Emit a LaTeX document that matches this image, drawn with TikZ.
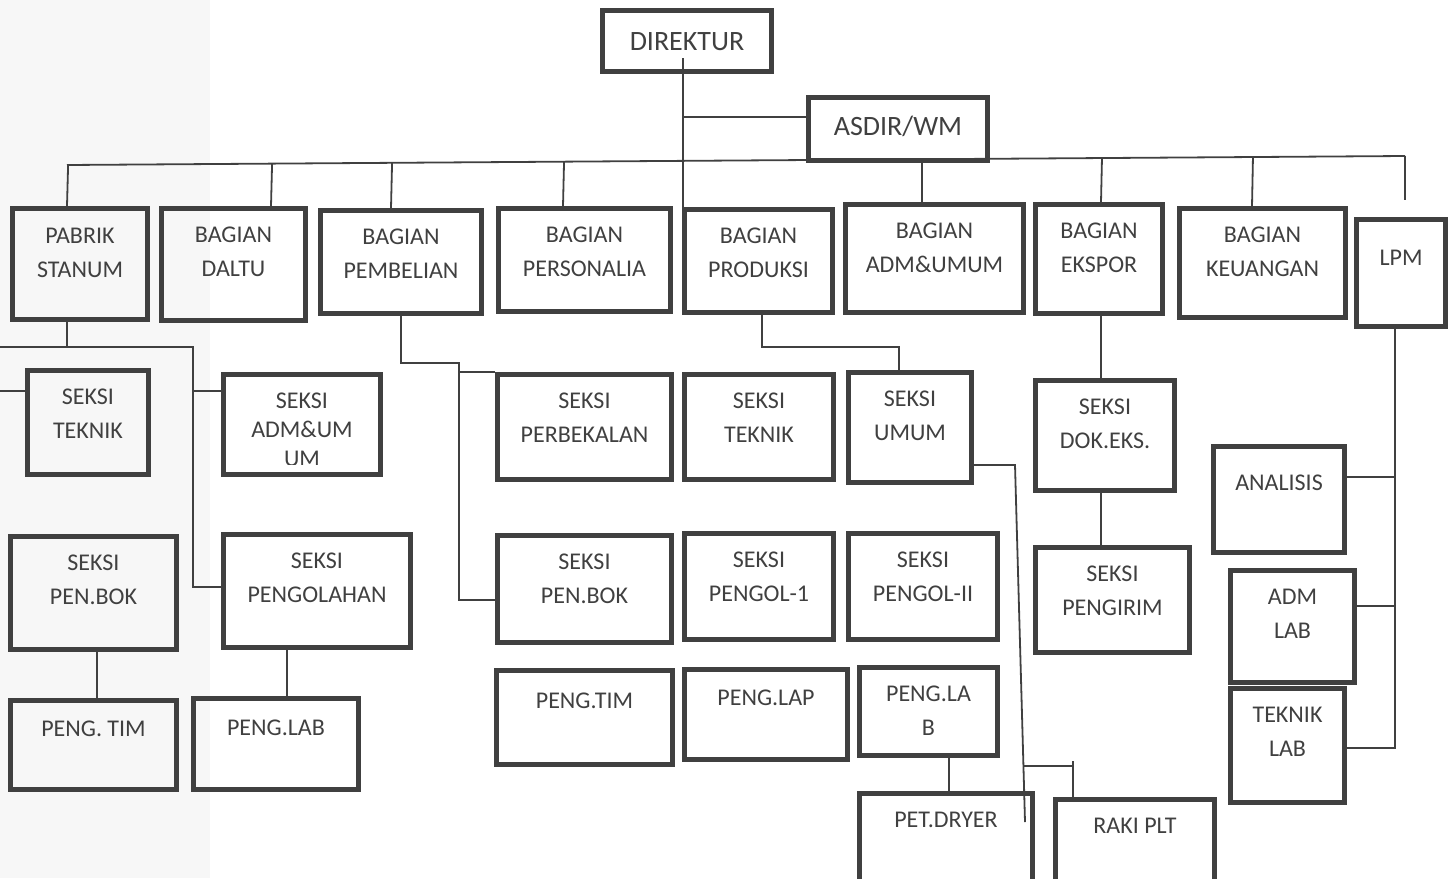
\documentclass[tikz,border=0pt]{standalone}
\usepackage{fontspec}
\setmainfont{Carlito}
\usetikzlibrary{calc}
\definecolor{boxgray}{RGB}{64,64,64}
\definecolor{stripgray}{RGB}{247,247,247}

\begin{document}
\begin{tikzpicture}[x=0.5pt, y=-0.5pt,
  box/.style={draw=boxgray, line width=2.5pt, inner sep=0pt},
  txt/.style={anchor=north, inner sep=0pt, yshift=-10.25pt, align=center, text=boxgray, font=\fontsize{12}{17}\selectfont},
  big/.style={font=\fontsize{14}{17}\selectfont},
  link/.style={draw=boxgray, line width=0.9pt}]
\useasboundingbox (0,0) rectangle (1449,878);
\clip (0,0) rectangle (1449,878);
\fill[stripgray] (0,0) rectangle (210,878);

%top
\node[box, minimum width=84.5pt, minimum height=30.5pt, label={[txt,big,yshift=-2pt]north:DIREKTUR}] (dir) at (687,41) {};
\node[box, minimum width=89.5pt, minimum height=31.5pt, label={[txt,big]north:ASDIR/WM}] (asdir) at (898,129) {};

%bagian row
\node[box, minimum width=67.5pt, minimum height=55.5pt, label={[txt,yshift=-0.5pt]north:PABRIK\\STANUM}] (pab) at (80,264) {};
\node[box, minimum width=72pt, minimum height=56pt, label={[txt]north:BAGIAN\\DALTU}] (dal) at (233.5,264.5) {};
\node[box, minimum width=80.5pt, minimum height=51.5pt, label={[txt]north:BAGIAN\\PEMBELIAN}] (pem) at (401,262) {};
\node[box, minimum width=86pt, minimum height=51.5pt, label={[txt]north:BAGIAN\\PERSONALIA}] (per) at (584.5,260) {};
\node[box, minimum width=74pt, minimum height=51.5pt, label={[txt]north:BAGIAN\\PRODUKSI}] (prod) at (758.5,261) {};
\node[box, minimum width=89pt, minimum height=54pt, label={[txt]north:BAGIAN\\ADM\&UMUM}] (adm) at (934.5,258.5) {};
\node[box, minimum width=63.5pt, minimum height=54.5pt, label={[txt]north:BAGIAN\\EKSPOR}] (eks) at (1099,259) {};
\node[box, minimum width=83pt, minimum height=54.5pt, label={[txt]north:BAGIAN\\KEUANGAN}] (keu) at (1262.5,263) {};
\node[box, minimum width=44.5pt, minimum height=53.5pt, label={[txt,yshift=-6pt]north:LPM}] (lpm) at (1401,273) {};

%left seksi
\node[box, minimum width=60.5pt, minimum height=52pt, label={[txt]north:SEKSI\\TEKNIK}] (tek1) at (88,422.5) {};
\node[box, minimum width=78.5pt, minimum height=50pt] (admum) at (302,424.5) {};
\begin{scope}
\clip (221,372) rectangle (383,464);
\node[txt, font=\fontsize{12}{14.5}\selectfont] (admum-t) at (admum.north) {SEKSI\\ADM\&UM\\UM};
\end{scope}
\node[box, minimum width=83pt, minimum height=56.5pt, label={[txt]north:SEKSI\\PEN.BOK}] (pbok1) at (93.5,593) {};
\node[box, minimum width=93.5pt, minimum height=56.5pt, label={[txt]north:SEKSI\\PENGOLAHAN}] (pengo) at (317,591) {};
\node[box, minimum width=83pt, minimum height=44.5pt, label={[txt,yshift=-1pt]north:PENG. TIM}] (ptim1) at (93.5,745) {};
\node[box, minimum width=82.5pt, minimum height=45.5pt, label={[txt,yshift=-1.5pt]north:PENG.LAB}] (plab1) at (276,744) {};

%middle seksi
\node[box, minimum width=87pt, minimum height=52.5pt, label={[txt]north:SEKSI\\PERBEKALAN}] (perb) at (584.5,427) {};
\node[box, minimum width=74.5pt, minimum height=52.5pt, label={[txt]north:SEKSI\\TEKNIK}] (tek2) at (759,427) {};
\node[box, minimum width=61.5pt, minimum height=55pt, label={[txt]north:SEKSI\\UMUM}] (umum) at (910,427.5) {};
\node[box, minimum width=87pt, minimum height=53.5pt, label={[txt]north:SEKSI\\PEN.BOK}] (pbok2) at (584.5,589) {};
\node[box, minimum width=74.5pt, minimum height=53pt, label={[txt]north:SEKSI\\PENGOL-1}] (pgl1) at (759,586.5) {};
\node[box, minimum width=74.5pt, minimum height=53pt, label={[txt]north:SEKSI\\PENGOL-II}] (pgl2) at (923,586.5) {};
\node[box, minimum width=88pt, minimum height=47pt, label={[txt,yshift=-2pt]north:PENG.TIM}] (ptim2) at (584.5,717.5) {};
\node[box, minimum width=81.5pt, minimum height=45pt, label={[txt,yshift=-1pt]north:PENG.LAP}] (plap) at (766,714.5) {};
\node[box, minimum width=69pt, minimum height=44pt, label={[txt]north:PENG.LA\\B}] (plab2) at (928.5,711.5) {};
\node[box, minimum width=86.5pt, minimum height=52pt, label={[txt]north:PET.DRYER}] (pdry) at (946,845.5) {};
\node[box, minimum width=79.5pt, minimum height=51.5pt, label={[txt]north:RAKI PLT}] (raki) at (1135,851) {};

%right seksi
\node[box, minimum width=69.5pt, minimum height=55pt, label={[txt]north:SEKSI\\DOK.EKS.}] (dok) at (1105,435.5) {};
\node[box, minimum width=77pt, minimum height=52.5pt, label={[txt]north:SEKSI\\PENGIRIM}] (kirim) at (1112.5,600) {};
\node[box, minimum width=65.5pt, minimum height=53pt, label={[txt,yshift=-5pt]north:ANALISIS}] (anal) at (1279,499.5) {};
\node[box, minimum width=62pt, minimum height=56pt, label={[txt]north:ADM\\LAB}] (admlab) at (1292.5,626.5) {};
\node[box, minimum width=57pt, minimum height=57pt, label={[txt]north:TEKNIK\\LAB}] (teklab) at (1287.5,745.5) {};

%direktur and asdir lines
\coordinate (dirdown) at (683,58); \coordinate (asjoin) at (683,117);
\draw[link] (dirdown) -- (dirdown |- prod.north);
\draw[link] (asjoin) -- (asjoin -| asdir.west);
\draw[link] (922,0 |- asdir.south) -- (922,0 |- adm.north);

%bus line
\coordinate (busL) at (67,165); \coordinate (busR) at (1405,156);
\draw[link] (busL) -- (busR);
\foreach \x/\b in {67/pab,271/dal,391/pem,563/per,1101/eks,1252/keu}
  \draw[link] ($(busL)!(\x,0)!(busR)$) -- (\x,0 |- \b.north);
\draw[link, shorten >=8.75pt] (busR) -- (busR |- lpm.north);

%pabrik stanum lines
\coordinate (lj) at (67,347); \coordinate (lx) at (193,347); \coordinate (lo) at (-12,347);
\draw[link] (67,0 |- pab.south) -- (lj);
\draw[link] (lo) -- (lx) -- (193,587) -- (193,587 -| pengo.west);
\draw[link] (193,391) -- (193,391 -| admum.west);
\draw[link] (lo) -- (-12,391) -- (-12,391 -| tek1.west);
\draw[link] (97,0 |- pbok1.south) -- (97,0 |- ptim1.north);
\draw[link] (287,0 |- pengo.south) -- (287,0 |- plab1.north);

%pembelian lines
\draw[link] (pem.south) -- (401,363) -- (459,363) -- (459,600) -- (459,600 -| pbok2.west);
\draw[link] (459,372) -- (459,372 -| perb.west);

%produksi lines
\draw[link] (762,0 |- prod.south) -- (762,347) -- (899,347) -- (899,0 |- umum.north);
\coordinate (ua) at (1015,465); \coordinate (ub) at (1025,822);
\draw[link] (ua -| umum.east) -- (ua) -- (ub);
\draw[link] (1023,766) -- (1073,766);
\draw[link] (1073,761) -- (1073,0 |- raki.north);
\draw[link] (949,0 |- plab2.south) -- (949,0 |- pdry.north);

%ekspor lines
\draw[link] (1101,0 |- eks.south) -- (1101,0 |- dok.north);
\draw[link] (1101,0 |- dok.south) -- (1101,0 |- kirim.north);

%lpm lines
\draw[link] (1395,0 |- lpm.south) -- (1395,748) -- (1395,748 -| teklab.east);
\draw[link] (1395,477) -- (1395,477 -| anal.east);
\draw[link] (1395,606) -- (1395,606 -| admlab.east);

\end{tikzpicture}
\end{document}
